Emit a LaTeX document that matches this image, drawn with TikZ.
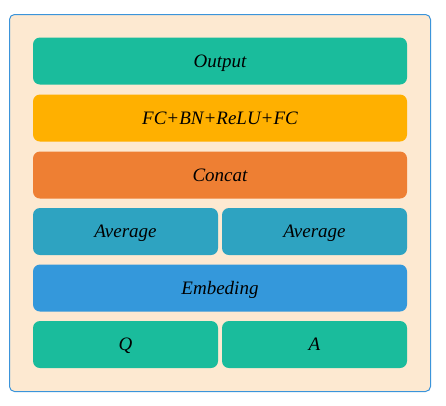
\documentclass[tikz,border=0pt]{standalone}
\usepackage{fontspec}
\setmainfont{Liberation Serif}
\usepackage{tikz}
\usetikzlibrary{positioning}

\definecolor{panelbg}{HTML}{FDE9D1}
\definecolor{panelline}{HTML}{3B94DA}
\definecolor{tealbox}{HTML}{1ABC9C}
\definecolor{ambbox}{HTML}{FFB000}
\definecolor{orgbox}{HTML}{EE7F33}
\definecolor{avgbox}{HTML}{2EA3C1}
\definecolor{embbox}{HTML}{3498DB}

\begin{document}
\begin{tikzpicture}[
			x=1pt, y=-1pt,
			every node/.style={
				rounded corners=7pt,
				align=center,
				minimum height=47pt,
				inner sep=0pt,
				text height=14pt,
				text depth=1.5pt,
				font=\fontsize{19}{21}\selectfont\itshape
			},
			wide/.style={minimum width=374pt},
			half/.style={minimum width=185pt}
			]
			\useasboundingbox (0,0) rectangle (446,405);
			
			% panel
			\draw[panelline, line width=1pt, fill=panelbg, rounded corners=5pt] (9.5,14.5) rectangle (430.5,391.5);
			
			% Row 1
			\node[wide, fill=tealbox] (out) at (220,61) {Output};
			
			% Row 2
			\node[wide, fill=ambbox] (fc) at (220,118) {FC+BN+ReLU+FC};
			
			% Row 3
			\node[wide, fill=orgbox] (cat) at (220,175) {Concat};
			
			% Row 4 - two halves
			\node[half, fill=avgbox] (avgq) at (125.5,231.5) {Average};
			\node[half, fill=avgbox] (avga) at (314.5,231.5) {Average};
			
			% Row 5
			\node[wide, fill=embbox] (emb) at (220,288) {Embeding};
			
			% Row 6 - two halves
			\node[half, fill=tealbox] (q) at (125.5,344.5) {Q};
			\node[half, fill=tealbox] (a) at (314.5,344.5) {A};
			
		\end{tikzpicture}
\end{document}
